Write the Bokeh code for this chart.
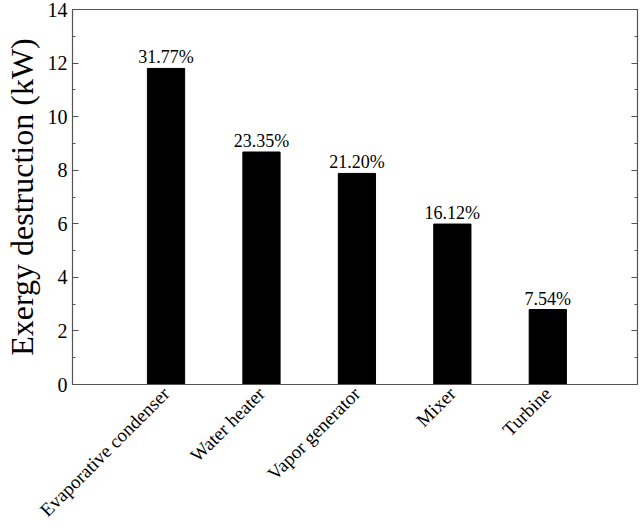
from bokeh.plotting import figure
from bokeh.models import Range1d, FixedTicker, LinearAxis
from bokeh.core.properties import value
from bokeh.embed import file_html
from bokeh.resources import INLINE

components = ["Evaporative condenser", "Water heater", "Vapor generator", "Mixer", "Turbine"]
destruction = [11.8, 8.68, 7.88, 5.99, 2.80]
percent_labels = ["31.77%", "23.35%", "21.20%", "16.12%", "7.54%"]
y_ticks = [0, 2, 4, 6, 8, 10, 12, 14]
y_minor = [1, 3, 5, 7, 9, 11, 13]

xs = list(range(1, len(components) + 1))
FONT = "Liberation Serif"
AX = "#555555"

p = figure(width=640, height=531, output_backend="svg", toolbar_location=None,
           x_range=Range1d(0.02, 5.94), y_range=Range1d(0, 14),
           min_border_left=72, min_border_right=3, min_border_top=9, min_border_bottom=0)
p.background_fill_color = "white"
p.border_fill_color = "white"
p.outline_line_color = AX
p.outline_line_width = 1.2
p.xgrid.grid_line_color = None
p.ygrid.grid_line_color = None

p.vbar(x=xs, top=destruction, width=0.39, bottom=0, fill_color="black", line_color="black")
p.text(x=xs, y=destruction, text=percent_labels, text_align="center", text_baseline="bottom",
       y_offset=-1, text_font=value(FONT), text_font_size="18px", text_color="black")

# x axis
xa = p.xaxis[0]
xa.ticker = FixedTicker(ticks=xs)
xa.major_label_overrides = {i: c for i, c in zip(xs, components)}
xa.major_label_orientation = 0.785
xa.major_label_text_font = FONT
xa.major_label_text_font_size = "19px"
xa.major_label_text_color = "black"
xa.major_tick_line_color = None
xa.minor_tick_line_color = None
xa.axis_line_color = AX
xa.major_label_standoff = 0

# y axis
ya = p.yaxis[0]
ya.ticker = FixedTicker(ticks=y_ticks, minor_ticks=y_minor)
ya.axis_label = "Exergy destruction (kW)"
ya.axis_label_text_font = FONT
ya.axis_label_text_font_size = "32px"
ya.axis_label_text_font_style = "normal"
ya.axis_label_text_color = "black"
ya.axis_label_standoff = 5
ya.major_label_text_font = FONT
ya.major_label_text_font_size = "20px"
ya.major_label_text_color = "black"
ya.major_label_standoff = 5
ya.major_tick_in = 6
ya.major_tick_out = 0
ya.minor_tick_in = 3
ya.minor_tick_out = 0
ya.major_tick_line_color = AX
ya.minor_tick_line_color = AX
ya.axis_line_color = AX

ra = LinearAxis(ticker=FixedTicker(ticks=y_ticks, minor_ticks=y_minor))
ra.major_label_overrides = {t: "" for t in y_ticks}
ra.major_label_text_font_size = "1px"
ra.major_label_standoff = 0
ra.axis_label_standoff = 0
ra.major_tick_in = 6
ra.major_tick_out = 0
ra.minor_tick_in = 3
ra.minor_tick_out = 0
ra.major_tick_line_color = AX
ra.minor_tick_line_color = AX
ra.axis_line_color = AX
p.add_layout(ra, "right")

open("out.html", "w").write(file_html(p, INLINE))
